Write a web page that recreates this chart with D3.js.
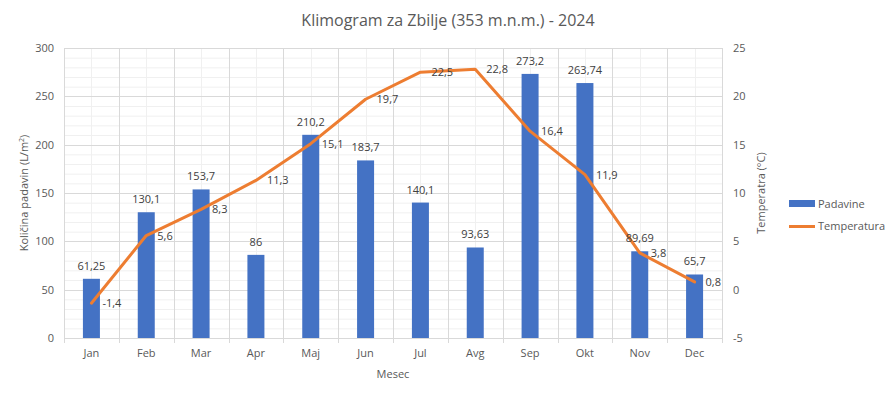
<!DOCTYPE html>
<html><head><meta charset="utf-8">
<script src="https://cdn.jsdelivr.net/npm/d3@7"></script>
<style>body{margin:0;background:#fff;} text{font-family:"Segoe UI","Open Sans","Noto Sans",sans-serif;}</style>
</head><body>
<svg id="c" width="895" height="398"></svg>
<script>
const months = ["Jan","Feb","Mar","Apr","Maj","Jun","Jul","Avg","Sep","Okt","Nov","Dec"];
const padavine = [61.25,130.1,153.7,86,210.2,183.7,140.1,93.63,273.2,263.74,89.69,65.7];
const temperatura = [-1.4,5.6,8.3,11.3,15.1,19.7,22.5,22.8,16.4,11.9,3.8,0.8];
const leftTicks = [0,50,100,150,200,250,300];
const rightTicks = [-5,0,5,10,15,20,25];

const svg = d3.select("#c");
const L=64,R=722,T=48,B=338;
const x = d3.scaleBand().domain(months).range([L,R]);
const yL = d3.scaleLinear().domain([0,300]).range([B,T]);
const yR = d3.scaleLinear().domain([-5,25]).range([B,T]);
const fmt = v => String(v).replace(".",",");
const grey="#595959";

// minor gridlines
const g = svg.append("g");
g.selectAll(".hmin").data(d3.range(0,301,10).filter(v=>v%50!==0)).join("line")
 .attr("x1",L).attr("x2",R).attr("y1",d=>yL(d)+0.5).attr("y2",d=>yL(d)+0.5).attr("stroke","#f0f0f0");
g.selectAll(".vmin").data(months).join("line")
 .attr("x1",d=>Math.round(x(d)+x.bandwidth()/2)+0.5).attr("x2",d=>Math.round(x(d)+x.bandwidth()/2)+0.5)
 .attr("y1",T).attr("y2",B).attr("stroke","#f0f0f0");
// major gridlines
g.selectAll(".hmaj").data(leftTicks.filter(v=>v>0)).join("line")
 .attr("x1",L).attr("x2",R).attr("y1",d=>Math.round(yL(d))+0.5).attr("y2",d=>Math.round(yL(d))+0.5).attr("stroke","#d9d9d9");
g.selectAll(".vmaj").data(d3.range(13)).join("line")
 .attr("x1",i=>Math.round(L+i*x.step())+0.5).attr("x2",i=>Math.round(L+i*x.step())+0.5)
 .attr("y1",T).attr("y2",B).attr("stroke","#d9d9d9");
// bottom axis line + ticks
g.append("line").attr("x1",L).attr("x2",R).attr("y1",B+0.5).attr("y2",B+0.5).attr("stroke","#d9d9d9");
g.selectAll(".tk").data(d3.range(13)).join("line")
 .attr("x1",i=>Math.round(L+i*x.step())+0.5).attr("x2",i=>Math.round(L+i*x.step())+0.5)
 .attr("y1",B).attr("y2",B+5).attr("stroke","#d9d9d9");

// bars
const bw = 17;
svg.selectAll(".bar").data(padavine).join("rect")
 .attr("x",(d,i)=>x(months[i])+x.bandwidth()/2-bw/2).attr("width",bw)
 .attr("y",d=>yL(d)).attr("height",d=>B-yL(d)).attr("fill","#4472C4");

// line
const line = d3.line().x((d,i)=>x(months[i])+x.bandwidth()/2).y(d=>yR(d)).curve(d3.curveLinear);
svg.append("path").datum(temperatura).attr("d",line).attr("fill","none")
 .attr("stroke","#ED7D31").attr("stroke-width",3).attr("stroke-linecap","round").attr("stroke-linejoin","round");

// bar labels
svg.selectAll(".bl").data(padavine).join("text")
 .attr("x",(d,i)=>x(months[i])+x.bandwidth()/2).attr("y",d=>yL(d)-9)
 .attr("text-anchor","middle").attr("font-size",11).attr("fill","#404040").text(fmt);
// temp labels
svg.selectAll(".tl").data(temperatura).join("text")
 .attr("x",(d,i)=>x(months[i])+x.bandwidth()/2+11).attr("y",d=>yR(d)+4)
 .attr("font-size",11).attr("fill","#404040").text(fmt);

// axes labels
svg.selectAll(".lt").data(leftTicks).join("text")
 .attr("x",54).attr("y",d=>yL(d)+4).attr("text-anchor","end").attr("font-size",11).attr("fill",grey).text(d=>d);
svg.selectAll(".rt").data(rightTicks).join("text")
 .attr("x",733).attr("y",d=>yR(d)+4).attr("font-size",11).attr("fill",grey).text(d=>d);
svg.selectAll(".xt").data(months).join("text")
 .attr("x",d=>x(d)+x.bandwidth()/2).attr("y",357).attr("text-anchor","middle").attr("font-size",11).attr("fill",grey).text(d=>d);

svg.append("text").attr("x",(L+R)/2).attr("y",378).attr("text-anchor","middle").attr("font-size",11).attr("fill",grey).text("Mesec");
svg.append("text").attr("transform","translate(28,193) rotate(-90)").attr("text-anchor","middle").attr("font-size",11).attr("fill",grey)
 .html('Količina padavin (L/m<tspan baseline-shift="super" font-size="7">2</tspan>)');
svg.append("text").attr("transform","translate(765,193) rotate(-90)").attr("text-anchor","middle").attr("font-size",11).attr("fill",grey).text("Temperatra (°C)");

svg.append("text").attr("x",448).attr("y",26).attr("text-anchor","middle").attr("font-size",16).attr("fill",grey).text("Klimogram za Zbilje (353 m.n.m.) - 2024");

// legend
svg.append("rect").attr("x",789).attr("y",200).attr("width",26).attr("height",7).attr("fill","#4472C4");
svg.append("text").attr("x",818).attr("y",208).attr("font-size",11).attr("fill",grey).text("Padavine");
svg.append("line").attr("x1",789).attr("x2",815).attr("y1",226.5).attr("y2",226.5).attr("stroke","#ED7D31").attr("stroke-width",3);
svg.append("text").attr("x",818).attr("y",230).attr("font-size",11).attr("fill",grey).text("Temperatura");
</script>
</body></html>
